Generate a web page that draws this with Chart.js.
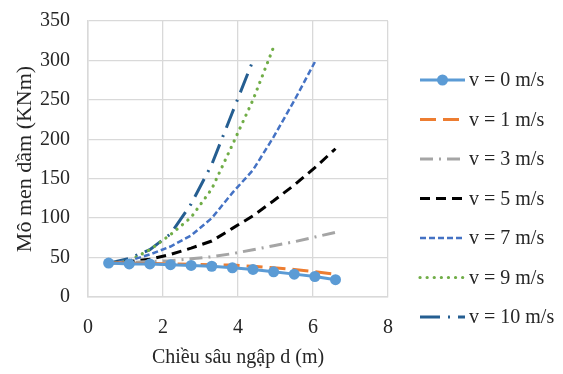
<!DOCTYPE html>
<html><head><meta charset="utf-8">
<script src="https://cdn.jsdelivr.net/npm/chart.js@4"></script>
<style>html,body{margin:0;padding:0;background:#fff}#w{width:563px;height:374px}</style>
</head><body><div id="w"><canvas id="c" width="563" height="374"></canvas></div>
<script>
const depth = [0.55,1.1,1.65,2.2,2.75,3.3,3.85,4.4,4.95,5.5,6.05,6.6];
const seriesNames = ["v = 0 m/s","v = 1 m/s","v = 3 m/s","v = 5 m/s","v = 7 m/s","v = 9 m/s","v = 10 m/s"];
const v0 = [43,42,42,41,40,39,37,35,32,29,26,22];
const v1 = [43,43,42.5,42,41.5,41,40.5,39,37,35,32,29];
const v3 = [43,43.5,45,46,48.5,51,55,60,65,70,76,82];
const v5 = [43,45,48,54,62,71,87,103,122,142,164,188];
const v7 = [43,46,54,64,78,100,132,161,203,249,298];
const v9 = [43,46,60,79,101,137,193,250,317];
const v10 = [43,49,60,80,118,168,234,300];
const xTicks = [0,2,4,6,8];
const yTicks = [0,50,100,150,200,250,300,350];

const values = [v0,v1,v3,v5,v7,v9,v10];
const styles = [
  {c:'#5B9BD5', dash:[], w:3, pt:5.5},
  {c:'#ED7D31', dash:[16,7], w:3},
  {c:'#A5A5A5', dash:[13,6,2,6], w:3},
  {c:'#000000', dash:[10,6], w:3},
  {c:'#4472C4', dash:[6,3], w:2.5},
  {c:'#70AD47', dash:[0.1,7], w:3.2, cap:'round'},
  {c:'#255E91', dash:[20,8,2,8], w:3}
];
const datasets = values.map((arr,i)=>({
  label: seriesNames[i],
  data: arr.map((y,j)=>({x:depth[j], y})),
  borderColor: styles[i].c,
  backgroundColor: styles[i].c,
  borderWidth: styles[i].w,
  borderDash: styles[i].dash,
  borderCapStyle: styles[i].cap || 'butt',
  pointRadius: styles[i].pt || 0,
  pointHoverRadius: 0,
  pointBorderWidth: 0,
  tension: 0,
  fill: false
}));

const FONT = "'Liberation Serif','Times New Roman',serif";
const TXT = '#262626';

const legendPlugin = {
  id:'customLegend',
  afterDraw(chart){
    const ctx = chart.ctx;
    ctx.save();
    chart.data.datasets.forEach((ds,i)=>{
      const y = 80 + i*39.5;
      ctx.beginPath();
      ctx.strokeStyle = ds.borderColor;
      ctx.lineWidth = ds.borderWidth;
      ctx.setLineDash(ds.borderDash);
      ctx.lineCap = ds.borderCapStyle;
      ctx.moveTo(420,y); ctx.lineTo(465,y); ctx.stroke();
      ctx.setLineDash([]);
      if (ds.pointRadius>0){
        ctx.beginPath(); ctx.fillStyle = ds.borderColor;
        ctx.arc(442.5,y,ds.pointRadius,0,Math.PI*2); ctx.fill();
      }
      ctx.fillStyle = TXT;
      ctx.font = "20px " + FONT;
      ctx.textAlign='left'; ctx.textBaseline='middle';
      ctx.fillText(ds.label, 469, y+1);
    });
    ctx.restore();
  }
};

new Chart(document.getElementById('c'),{
  type:'line',
  data:{datasets},
  options:{
    responsive:false, animation:false,
    layout:{padding:{top:21,right:175,left:0,bottom:0}},
    plugins:{legend:{display:false}, tooltip:{enabled:false}},
    scales:{
      x:{type:'linear', min:0, max:8,
        afterFit(s){ s.height = 77; s.paddingLeft = 0; s.paddingRight = 0; },
        afterBuildTicks(s){ s.ticks = xTicks.map(v=>({value:v})); },
        grid:{color:'#D9D9D9', lineWidth:1.3, drawTicks:false},
        border:{color:'#D9D9D9', width:1.5},
        ticks:{font:{family:FONT,size:20}, color:TXT, padding:19},
        title:{display:true, text:'Chiều sâu ngập d (m)', font:{family:FONT,size:20}, color:TXT, padding:{top:0,bottom:4}}
      },
      y:{type:'linear', min:0, max:350,
        afterFit(s){ s.width = 88; s.paddingTop = 0; s.paddingBottom = 0; },
        afterBuildTicks(s){ s.ticks = yTicks.map(v=>({value:v})); },
        grid:{color:'#D9D9D9', lineWidth:1.3, drawTicks:false},
        border:{color:'#D9D9D9', width:1.5},
        ticks:{font:{family:FONT,size:20}, color:TXT, padding:18},
        title:{display:true, text:'Mô men dầm (KNm)', font:{family:FONT,size:22}, color:TXT, padding:{top:12,bottom:0}}
      }
    }
  },
  plugins:[legendPlugin]
});
</script></body></html>
